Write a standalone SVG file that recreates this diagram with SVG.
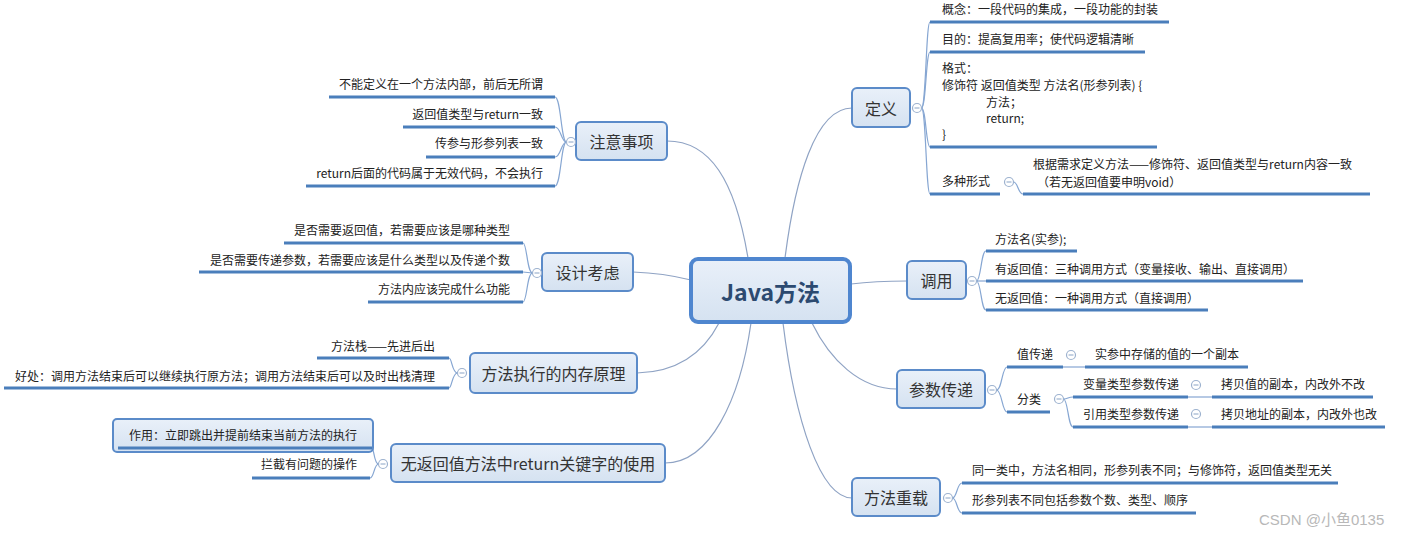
<svg xmlns="http://www.w3.org/2000/svg" width="1411" height="538" viewBox="0 0 1411 538">
<defs>
<linearGradient id="g" x1="0" y1="0" x2="0" y2="1"><stop offset="0" stop-color="#e9f0f9"/><stop offset="1" stop-color="#d5e2f1"/></linearGradient>
<style>
.node rect{fill:url(#g);stroke:#5b8bc9;stroke-width:2}
.lbl{font-family:"Noto Sans CJK SC","Liberation Sans",sans-serif;font-size:16px;fill:#333;text-anchor:middle;dominant-baseline:central}
.t{font-family:"Noto Sans CJK SC","Liberation Sans",sans-serif;font-size:12px;fill:#222}
.e{text-anchor:end}
.ul{stroke:#4a7ebb;stroke-width:3;fill:none}
.br{stroke:#86a6d2;stroke-width:1.2;fill:none}
.con{stroke:#8fa3c4;stroke-width:1.2;fill:none}
.col{fill:#fff;stroke:#9db2cf;stroke-width:1.2}
.mn{stroke:#9db2cf;stroke-width:1.2}
</style>
</defs>
<rect width="1411" height="538" fill="#fff"/>
<g id="connectors">
<path class="con" d="M785,258 C795,180 815,108 852,108"/>
<path class="con" d="M748,258 C735,180 710,141 667,141"/>
<path class="con" d="M633,272 C660,273 675,276 691,280"/>
<path class="con" d="M719,323 C705,350 680,372 637,373"/>
<path class="con" d="M751,323 C740,400 710,463 665,463"/>
<path class="con" d="M851,284 C875,281 890,281 907,281"/>
<path class="con" d="M812,323 C830,360 860,389 897,389"/>
<path class="con" d="M783,323 C795,420 820,498 852,498"/>
<!-- brackets right -->
<path class="br" d="M921.5,108 C926,108 926,22 930,22"/>
<path class="br" d="M921.5,108 C926,108 926,52 930,52"/>
<path class="br" d="M921.5,108 C926,108 926,147 930,147"/>
<path class="br" d="M921.5,108 C926,108 926,194 930,194"/>
<path class="br" d="M1013.5,182 C1018,182 1018,194 1023,194"/>
<path class="br" d="M976.5,281 C981,281 981,251 986,251"/>
<path class="br" d="M976.5,281 L986,281"/>
<path class="br" d="M976.5,281 C981,281 981,310 986,310"/>
<path class="br" d="M996.5,390 C1002,390 1002,367 1007,367"/>
<path class="br" d="M996.5,390 C1002,390 1002,412 1007,412"/>
<path class="br" d="M1063,367 L1085,367"/>
<path class="br" d="M1063.5,399 C1068,399 1068,397 1073,397"/>
<path class="br" d="M1063.5,399 C1068,399 1068,427 1073,427"/>
<path class="br" d="M1188,397 L1212,397"/>
<path class="br" d="M1188,427 L1212,427"/>
<path class="br" d="M952.5,498 C957,498 957,483 962,483"/>
<path class="br" d="M952.5,498 C957,498 957,513 962,513"/>
<!-- brackets left -->
<path class="br" d="M566.5,142 C561,142 561,97 555,97"/>
<path class="br" d="M566.5,142 C561,142 561,127 555,127"/>
<path class="br" d="M566.5,142 C561,142 561,157 555,157"/>
<path class="br" d="M566.5,142 C561,142 561,186 555,186"/>
<path class="br" d="M532.5,273 C527,273 527,243 523,243"/>
<path class="br" d="M532.5,273 L523,272"/>
<path class="br" d="M532.5,273 C527,273 527,302 523,302"/>
<path class="br" d="M457.5,373 C452,373 452,358 449,358"/>
<path class="br" d="M457.5,373 C452,373 452,388 449,388"/>
<path class="br" d="M378.5,464 C374,464 374,448 372,448"/>
<path class="br" d="M378.5,464 C374,464 374,478 370,478"/>
</g>
<g id="center" class="node">
<rect x="691" y="259" width="159" height="63" rx="7" style="stroke:#4f86cf;stroke-width:4"/>
<text x="770.5" y="291" class="lbl" style="font-size:23px;font-weight:bold;fill:#2c4a70">Java方法</text>
</g>
<g id="n-dingyi" class="node">
<rect x="852" y="88" width="58" height="39" rx="5"/>
<text x="881" y="107.5" class="lbl">定义</text>
<circle class="col" cx="917" cy="108" r="4.5"/><line class="mn" x1="914.5" y1="108" x2="919.5" y2="108"/>
<text class="t" x="942" y="14">概念：一段代码的集成，一段功能的封装</text>
<line class="ul" x1="930" y1="22" x2="1169" y2="22"/>
<text class="t" x="942" y="44">目的：提高复用率；使代码逻辑清晰</text>
<line class="ul" x1="930" y1="52" x2="1145" y2="52"/>
<text class="t" x="942" y="73">格式：</text>
<text class="t" x="942" y="90">修饰符 返回值类型 方法名(形参列表) {</text>
<text class="t" x="986" y="107">方法；</text>
<text class="t" x="986" y="123">return;</text>
<text class="t" x="942" y="139">}</text>
<line class="ul" x1="930" y1="147" x2="1157" y2="147"/>
<text class="t" x="942" y="186">多种形式</text>
<line class="ul" x1="930" y1="194" x2="1000" y2="194"/>
<circle class="col" cx="1009" cy="182" r="4.5"/><line class="mn" x1="1006.5" y1="182" x2="1011.5" y2="182"/>
<text class="t" x="1033" y="169">根据需求定义方法——修饰符、返回值类型与return内容一致</text>
<text class="t" x="1037" y="187">（若无返回值要申明void）</text>
<line class="ul" x1="1023" y1="194" x2="1370" y2="194"/>
</g>
<g id="n-diaoyong" class="node">
<rect x="907" y="261" width="59" height="38" rx="5"/>
<text x="936.5" y="280" class="lbl">调用</text>
<circle class="col" cx="972" cy="281" r="4.5"/><line class="mn" x1="969.5" y1="281" x2="974.5" y2="281"/>
<text class="t" x="995" y="244">方法名(实参);</text>
<line class="ul" x1="986" y1="251" x2="1077" y2="251"/>
<text class="t" x="995" y="274">有返回值：三种调用方式（变量接收、输出、直接调用）</text>
<line class="ul" x1="986" y1="281" x2="1303" y2="281"/>
<text class="t" x="995" y="303">无返回值：一种调用方式（直接调用）</text>
<line class="ul" x1="986" y1="310" x2="1208" y2="310"/>
</g>
<g id="n-canshu" class="node">
<rect x="897" y="370" width="88" height="38" rx="5"/>
<text x="941" y="389" class="lbl">参数传递</text>
<circle class="col" cx="992" cy="390" r="4.5"/><line class="mn" x1="989.5" y1="390" x2="994.5" y2="390"/>
<text class="t" x="1017" y="359">值传递</text>
<line class="ul" x1="1007" y1="367" x2="1063" y2="367"/>
<circle class="col" cx="1071" cy="355" r="4.5"/><line class="mn" x1="1068.5" y1="355" x2="1073.5" y2="355"/>
<text class="t" x="1095" y="359">实参中存储的值的一个副本</text>
<line class="ul" x1="1085" y1="367" x2="1248" y2="367"/>
<text class="t" x="1017" y="404">分类</text>
<line class="ul" x1="1007" y1="412" x2="1050" y2="412"/>
<circle class="col" cx="1059" cy="399" r="4.5"/><line class="mn" x1="1056.5" y1="399" x2="1061.5" y2="399"/>
<text class="t" x="1083" y="389">变量类型参数传递</text>
<line class="ul" x1="1073" y1="397" x2="1188" y2="397"/>
<circle class="col" cx="1196" cy="385" r="4.5"/><line class="mn" x1="1193.5" y1="385" x2="1198.5" y2="385"/>
<text class="t" x="1221" y="389">拷贝值的副本，内改外不改</text>
<line class="ul" x1="1212" y1="397" x2="1373" y2="397"/>
<text class="t" x="1083" y="419">引用类型参数传递</text>
<line class="ul" x1="1073" y1="427" x2="1188" y2="427"/>
<circle class="col" cx="1196" cy="414" r="4.5"/><line class="mn" x1="1193.5" y1="414" x2="1198.5" y2="414"/>
<text class="t" x="1221" y="419">拷贝地址的副本，内改外也改</text>
<line class="ul" x1="1212" y1="427" x2="1385" y2="427"/>
</g>
<g id="n-chongzai" class="node">
<rect x="852" y="478" width="88" height="38" rx="5"/>
<text x="896" y="497" class="lbl">方法重载</text>
<circle class="col" cx="948" cy="498" r="4.5"/><line class="mn" x1="945.5" y1="498" x2="950.5" y2="498"/>
<text class="t" x="972" y="475">同一类中，方法名相同，形参列表不同；与修饰符，返回值类型无关</text>
<line class="ul" x1="962" y1="483" x2="1338" y2="483"/>
<text class="t" x="972" y="505">形参列表不同包括参数个数、类型、顺序</text>
<line class="ul" x1="962" y1="513" x2="1196" y2="513"/>
</g>
<g id="n-zhuyi" class="node">
<rect x="576" y="122" width="91" height="38" rx="5"/>
<text x="621.5" y="141" class="lbl">注意事项</text>
<circle class="col" cx="571" cy="142" r="4.5"/><line class="mn" x1="568.5" y1="142" x2="573.5" y2="142"/>
<text class="t e" x="543" y="89">不能定义在一个方法内部，前后无所谓</text>
<line class="ul" x1="329" y1="97" x2="555" y2="97"/>
<text class="t e" x="543" y="119">返回值类型与return一致</text>
<line class="ul" x1="403" y1="127" x2="555" y2="127"/>
<text class="t e" x="543" y="148">传参与形参列表一致</text>
<line class="ul" x1="426" y1="157" x2="555" y2="157"/>
<text class="t e" x="543" y="178">return后面的代码属于无效代码，不会执行</text>
<line class="ul" x1="306" y1="186" x2="555" y2="186"/>
</g>
<g id="n-sheji" class="node">
<rect x="542" y="253" width="91" height="38" rx="5"/>
<text x="587.5" y="272" class="lbl">设计考虑</text>
<circle class="col" cx="537" cy="273" r="4.5"/><line class="mn" x1="534.5" y1="273" x2="539.5" y2="273"/>
<text class="t e" x="510" y="235">是否需要返回值，若需要应该是哪种类型</text>
<line class="ul" x1="284" y1="243" x2="523" y2="243"/>
<text class="t e" x="510" y="265">是否需要传递参数，若需要应该是什么类型以及传递个数</text>
<line class="ul" x1="199" y1="272" x2="523" y2="272"/>
<text class="t e" x="510" y="294">方法内应该完成什么功能</text>
<line class="ul" x1="368" y1="302" x2="523" y2="302"/>
</g>
<g id="n-neicun" class="node">
<rect x="470" y="353" width="167" height="40" rx="5"/>
<text x="553.5" y="373" class="lbl">方法执行的内存原理</text>
<circle class="col" cx="462" cy="373" r="4.5"/><line class="mn" x1="459.5" y1="373" x2="464.5" y2="373"/>
<text class="t e" x="435" y="351">方法栈——先进后出</text>
<line class="ul" x1="317" y1="358" x2="449" y2="358"/>
<text class="t e" x="435" y="381">好处：调用方法结束后可以继续执行原方法；调用方法结束后可以及时出栈清理</text>
<line class="ul" x1="4" y1="388" x2="449" y2="388"/>
</g>
<g id="n-return" class="node">
<rect x="391" y="444" width="274" height="38" rx="5"/>
<text x="528" y="463" class="lbl">无返回值方法中return关键字的使用</text>
<circle class="col" cx="383" cy="464" r="4.5"/><line class="mn" x1="380.5" y1="464" x2="385.5" y2="464"/>
<rect x="113" y="419" width="260" height="33" rx="4" fill="#f1f5fa" stroke="#c9d8ea" stroke-width="1.5"/>
<text class="t e" x="357" y="440">作用：立即跳出并提前结束当前方法的执行</text>
<line class="ul" x1="118" y1="448" x2="372" y2="448"/>
<text class="t e" x="357" y="469">拦截有问题的操作</text>
<line class="ul" x1="252" y1="478" x2="370" y2="478"/>
</g>
<text x="1259" y="525" style="font-family:'Liberation Sans','Noto Sans CJK SC',sans-serif;font-size:15px;fill:#b8b8b8">CSDN @小鱼0135</text>
</svg>
